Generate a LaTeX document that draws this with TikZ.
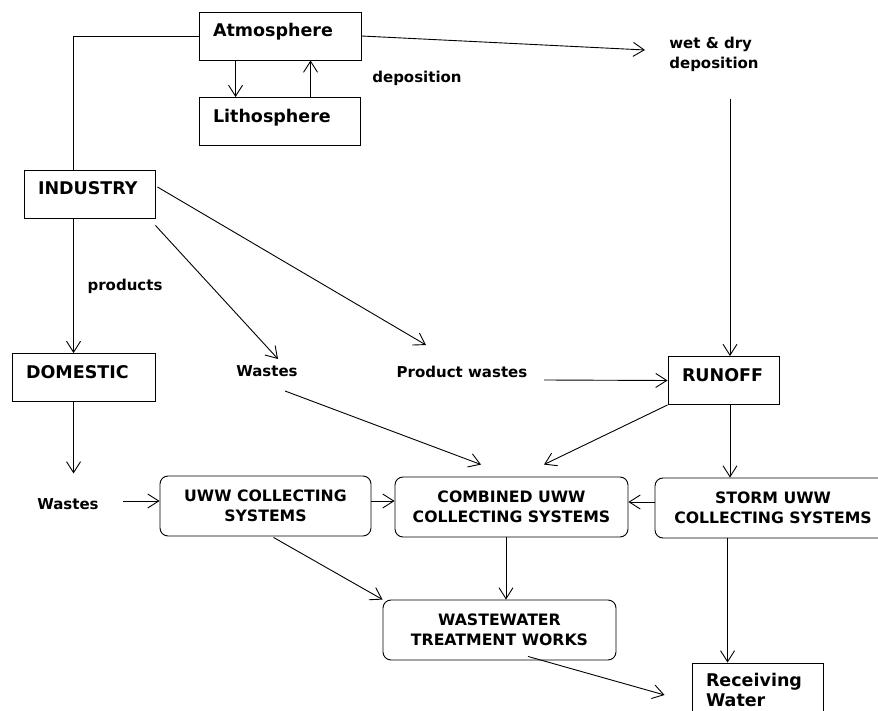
\documentclass[tikz,border=0pt]{standalone}
\usepackage{fontspec}
\setmainfont{DejaVu Sans}
\usetikzlibrary{calc,arrows.meta}

\begin{document}
\begin{tikzpicture}[x=1pt,y=-1pt,line width=0.9pt,
  flow/.style={-{Straight Barb[length=11pt,width=14pt]}},
  sqbox/.style={draw,inner xsep=14pt,inner ysep=0pt,align=left,minimum height=48pt,
    text height=13pt,text depth=11pt,font=\fontsize{17.5}{21}\selectfont\bfseries},
  rndbox/.style={draw,rounded corners=8pt,align=center,minimum height=60pt,
    font=\fontsize{15.7}{20}\selectfont\bfseries},
  lbl/.style={inner sep=0pt,align=left,font=\fontsize{15}{20}\selectfont\bfseries}]
  \useasboundingbox (0,0) rectangle (878,711);
  \clip (0,0) rectangle (878,711);

  %% Boxes with square corners
  \node[sqbox,text width=134pt] (atmos) at (280,36) {Atmosphere};
  \node[sqbox,text width=133pt] (litho) at (279.5,121.5) {Lithosphere};
  \node[sqbox,text width=103pt] (industry) at (89.5,194) {INDUSTRY};
  \node[sqbox,text width=115pt] (domestic) at (83.5,377.5) {DOMESTIC};
  \node[sqbox,text width=83pt] (runoff) at (723.5,380.5) {RUNOFF};
  \node[draw,inner xsep=14pt,text width=103pt,align=left,minimum height=54pt,
    font=\fontsize{17.5}{20}\selectfont\bfseries] (recv) at (757.5,690) {Receiving\\Water};

  %% Collecting systems and treatment
  \node[rndbox,minimum width=211pt] (uww) at (265.5,506) {UWW COLLECTING\\SYSTEMS};
  \node[rndbox,minimum width=233pt] (comb) at (511.5,507) {COMBINED UWW\\COLLECTING SYSTEMS};
  \node[rndbox,minimum width=236pt] (storm) at (773,508) {STORM UWW\\COLLECTING SYSTEMS};
  \node[rndbox,minimum width=233pt] (wwtw) at (499.5,630) {WASTEWATER\\TREATMENT WORKS};

  %% Free labels
  \node[lbl] (depos) at (417,78) {deposition};
  \node[lbl] (wetdry) at (714,54) {wet \& dry\\deposition};
  \node[lbl] (products) at (125,286) {products};
  \node[lbl] (wastesM) at (267,371) {Wastes};
  \node[lbl] (prodw) at (462,372) {Product wastes};
  \node[lbl] (wastesL) at (68,504) {Wastes};

  %% Helper points for the vertical runs
  \coordinate (ix) at ([xshift=50pt]industry.south west);
  \coordinate (rx) at ([xshift=6.5pt]runoff.north);
  \coordinate (sx) at ([xshift=36pt]recv.north west);

  %% Top part: atmosphere exchange
  \draw (ix |- industry.north) |- (atmos.west);
  \draw[flow] (atmos.east) -- ($(wetdry)+(-69,-4)$);
  \draw[flow] ([xshift=37pt]atmos.south west) -- ([xshift=37pt]litho.north west);
  \draw[flow] ([xshift=112pt]litho.north west) -- ([xshift=112pt]atmos.south west);
  \draw[flow] ($(rx |- wetdry.south)+(0,27)$) -- (rx);

  %% Industry outputs
  \draw[flow] (ix) -- (ix |- domestic.north);
  \draw[flow] ($(industry.south east)+(0,7)$) -- ($(wastesM)+(11,-12)$);
  \draw[flow] ($(industry.east)+(2,-7)$) -- ($(prodw)+(-36,-27)$);
  \draw[flow] ($(prodw)+(82,8)$) -- (runoff.west);

  %% Into the collecting systems
  \draw[flow] ($(wastesM)+(18,20)$) -- ($(comb.north)+(-30.5,-12)$);
  \draw[flow] (runoff.south west) -- ($(comb.north)+(32.5,-12)$);
  \draw[flow] (runoff.south -| rx) -- (storm.north -| rx);
  \draw[flow] ($(storm.west)+(0,-6)$) -- ($(comb.east)+(0,-5)$);
  \draw[flow] (ix |- domestic.south) -- ($(ix |- wastesL.north)+(0,-24.5)$);
  \draw[flow] ($(wastesL.east |- uww.west)+(24,-5)$) -- ($(uww.west)+(0,-5)$);
  \draw[flow] ($(uww.east)+(0,-5)$) -- ($(comb.west)+(0,-6)$);

  %% Treatment and discharge
  \draw[flow] ($(uww.south)+(8,1)$) -- (wwtw.north west);
  \draw[flow] ($(comb.south)+(-5.5,0)$) -- ($(wwtw.north)+(6.5,0)$);
  \draw[flow] (storm.south -| sx) -- (sx);
  \draw[flow] ($(wwtw.south)+(28.5,-4)$) -- ($(recv.west)+(-27,5)$);
\end{tikzpicture}
\end{document}
